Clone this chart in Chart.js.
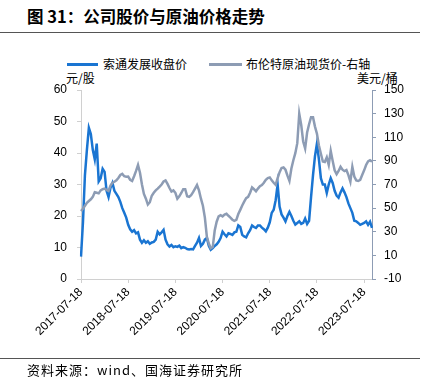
<!DOCTYPE html>
<html>
<head>
<meta charset="utf-8">
<script src="https://cdn.jsdelivr.net/npm/chart.js@4/dist/chart.umd.min.js"></script>
<style>
  html, body { margin: 0; padding: 0; background: #fff; }
  #wrap { position: relative; width: 428px; height: 387px; overflow: hidden;
          font-family: "Noto Sans CJK SC", "Liberation Sans", sans-serif; color: #000; }
  #chart { position: absolute; left: 0; top: 0; }
  .abs { position: absolute; white-space: nowrap; }
  #title { left: 27px; top: 5px; font-size: 16.5px; font-weight: bold; line-height: 22px; }
  .rule { position: absolute; left: 0; width: 420px; height: 1px; background: #555; }
  .leg { font-size: 12px; line-height: 14px; }
  .swatch { position: absolute; height: 3px; }
  #foot { left: 27px; top: 362px; font-size: 13px; line-height: 16px; letter-spacing: 1px; }
</style>
</head>
<body>
<div id="wrap">
  <div id="title" class="abs">图 31：公司股价与原油价格走势</div>
  <div class="rule" style="top:32px"></div>

  <div class="swatch" style="left:67px; top:63px; width:31px; background:#1a75d2"></div>
  <div class="abs leg" style="left:103px; top:57px">索通发展收盘价</div>
  <div class="swatch" style="left:209px; top:63px; width:33px; background:#8d9cb4"></div>
  <div class="abs leg" style="left:246px; top:57px">布伦特原油现货价-右轴</div>

  <div class="abs leg" style="left:66px; top:71px">元/股</div>
  <div class="abs leg" style="left:357px; top:71px">美元/桶</div>

  <canvas id="chart" width="428" height="387"></canvas>

  <div class="rule" style="top:358px"></div>
  <div id="foot" class="abs">资料来源：wind、国海证券研究所</div>
</div>

<script>
// ---- data (half-month steps from 2017-07-18) ----
const yearTicks = ['2017-07-18', '2018-07-18', '2019-07-18', '2020-07-18',
                   '2021-07-18', '2022-07-18', '2023-07-18'];

// 索通发展收盘价 (元/股)
const stockPrice = [
  7.1, 18, 33, 41, 48, 46, 41, 38, 43, 31, 32, 35, 34, 28, 26, 29, 30.5, 28, 27, 26,
  24.5, 22.5, 21, 19.5, 17.2, 15.8, 15, 15.5, 14.5, 14.8, 12.5, 11.5, 12.3, 11.5, 12, 11.2, 11.6, 11.8, 12.5, 15,
  14.2, 14.8, 15.6, 12.5, 11, 10.3, 10.8, 10.1, 10.4, 10.2, 10.6, 9.8, 10.1, 9.9, 9.5, 9.4, 9.5, 9.4, 10.5, 11.5,
  13, 10.5, 11.2, 12.5, 13, 10.5, 9.3, 9.8, 10.5, 11, 11.8, 13, 15, 14.2, 13.5, 14.5, 14.3, 14, 14.8, 15,
  17, 16.5, 14, 13.5, 13.2, 14.5, 15.5, 17, 16.5, 16.2, 17, 17, 16.3, 15.8, 15.1, 16.3, 18, 21, 22, 25,
  30, 23, 20.5, 19.5, 18.3, 20, 21.3, 20, 18.5, 17.3, 17.8, 18.3, 17.5, 17.8, 19.2, 17.5, 18.5, 26, 33, 39,
  43, 38, 32, 30, 30, 27.3, 30, 32, 30.5, 28, 26.5, 25.8, 27.5, 28.8, 27.5, 26, 24, 22.5, 21, 18.5,
  18.3, 17.8, 17.2, 17.5, 17.8, 18.3, 17.2, 18.2, 16.2
];

// 布伦特原油现货价 (美元/桶, 右轴)
const oilPrice = [
  47.6, 49.5, 52, 54.5, 56, 57.5, 59.5, 63.5, 63, 62.5, 65, 66, 66.5, 65.5, 64.5, 69, 71.5, 72.3, 73.5, 75.5,
  78, 79, 77, 76.5, 76.7, 74, 73, 77, 81.5, 86.6, 80, 70, 62, 58, 53, 55, 60.5, 63, 65, 66.5,
  68.2, 70, 72.5, 73.5, 70.5, 67, 64, 65, 63, 58, 60, 62.8, 66, 66, 60, 59.5, 61, 63.5, 66.5, 69.5,
  65, 58, 52, 42, 26, 20, 16, 17, 31, 38.5, 43, 44, 43, 44.5, 45.2, 43.5, 42, 40.2, 39.2, 40,
  45, 48.5, 52.2, 55.5, 58.5, 59.5, 63, 67.5, 66, 64.2, 66.5, 68.5, 69.5, 71.5, 74, 75.5, 76, 73.5, 71.5, 69.7,
  75.5, 80.5, 84, 84.5, 82.5, 77.5, 73, 83.5, 90.5, 96.5, 105, 130, 120.5, 106.4, 100.5, 114, 121, 127, 127, 119,
  113, 103, 96, 89.5, 89, 93, 86.6, 98.5, 90, 82, 78.8, 81.5, 85, 82.5, 81.3, 82.2, 78, 72.5, 85, 76.7,
  73.5, 73, 74, 78, 82, 86.5, 89.5, 90.5, 89.4
];

// category labels: the 18th and the 3rd of each month
const labels = [];
for (let i = 0; i < stockPrice.length; i++) {
  const m = 6 + Math.floor(i / 2) + (i % 2);          // zero-based month from Jan 2017
  const y = 2017 + Math.floor(m / 12);
  const mm = String(m % 12 + 1).padStart(2, '0');
  labels.push(`${y}-${mm}-${i % 2 ? '03' : '18'}`);
}

const tickFont = { family: '"Liberation Sans", Arial, sans-serif', size: 12 };
const stockColor = '#1a75d2';
const oilColor = '#8d9cb4';

new Chart(document.getElementById('chart'), {
  type: 'line',
  data: {
    labels,
    datasets: [
      {
        label: '布伦特原油现货价-右轴',
        data: oilPrice,
        yAxisID: 'y1',
        borderColor: oilColor,
        borderWidth: 2.5,
        pointRadius: 0,
        tension: 0
      },
      {
        label: '索通发展收盘价',
        data: stockPrice,
        yAxisID: 'y',
        borderColor: stockColor,
        borderWidth: 2.5,
        pointRadius: 0,
        tension: 0
      }
    ]
  },
  options: {
    responsive: false,
    animation: false,
    layout: { padding: { top: 90, left: 0, right: 0, bottom: 0 } },
    plugins: { legend: { display: false }, tooltip: { enabled: false } },
    scales: {
      x: {
        type: 'category',
        offset: false,
        grid: { drawOnChartArea: false, tickLength: 4, color: '#d0d0d0' },
        border: { color: '#d0d0d0' },
        ticks: {
          autoSkip: false, minRotation: 45, maxRotation: 45, padding: 2,
          color: '#000', font: tickFont,
          callback: function (v) {
            const l = this.getLabelForValue(v);
            return yearTicks.includes(l) ? l : null;
          }
        },
        afterFit: s => { s.height = 108; }
      },
      y: {
        position: 'left',
        min: 0, max: 60,
        grid: { drawOnChartArea: false, tickLength: 4, color: '#d0d0d0' },
        border: { color: '#d0d0d0' },
        ticks: { stepSize: 10, padding: 10, color: '#000', font: tickFont },
        afterFit: s => { s.width = 81; }
      },
      y1: {
        position: 'right',
        min: -10, max: 150,
        grid: { drawOnChartArea: false, tickLength: 4, color: oilColor },
        border: { color: oilColor },
        ticks: { stepSize: 20, padding: 8, color: '#000', font: tickFont },
        afterFit: s => { s.width = 56; }
      }
    }
  }
});
</script>
</body>
</html>
